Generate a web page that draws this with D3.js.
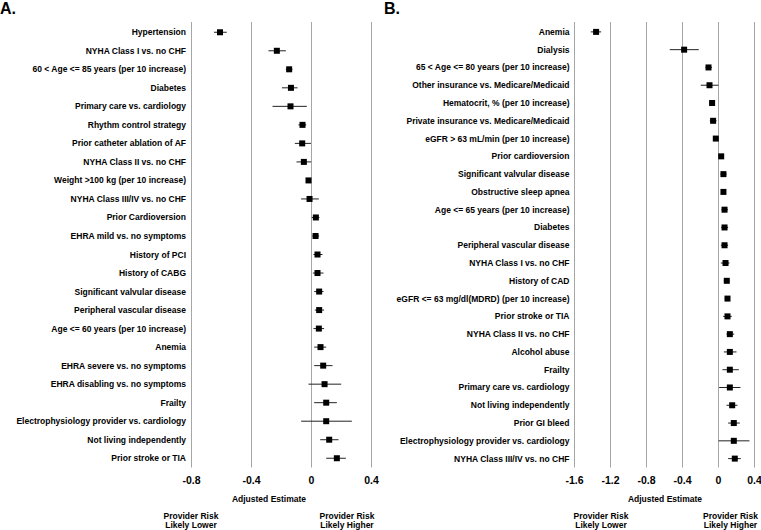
<!DOCTYPE html>
<html>
<head>
<meta charset="utf-8">
<script src="https://cdn.jsdelivr.net/npm/d3@7"></script>
<style>
  body { margin: 0; background: #fff; }
  svg { font-family: "Liberation Sans", Arial, sans-serif; font-weight: bold; }
</style>
</head>
<body>
<div id="vis"></div>
<script>
const FRAME_WIDTH = 761;
const FRAME_HEIGHT = 530;

// Panel A data
const labelsA = ["Hypertension", "NYHA Class I vs. no CHF", "60 < Age <= 85 years (per 10 increase)",
  "Diabetes", "Primary care vs. cardiology", "Rhythm control strategy", "Prior catheter ablation of AF",
  "NYHA Class II vs. no CHF", "Weight >100 kg (per 10 increase)", "NYHA Class III/IV vs. no CHF",
  "Prior Cardioversion", "EHRA mild vs. no symptoms", "History of PCI", "History of CABG",
  "Significant valvular disease", "Peripheral vascular disease", "Age <= 60 years (per 10 increase)",
  "Anemia", "EHRA severe vs. no symptoms", "EHRA disabling vs. no symptoms", "Frailty",
  "Electrophysiology provider vs. cardiology", "Not living independently", "Prior stroke or TIA"];
const estA = [-0.61, -0.231, -0.149, -0.137, -0.14, -0.06, -0.062, -0.051, -0.02, -0.013,
  0.029, 0.027, 0.04, 0.04, 0.051, 0.051, 0.049, 0.06, 0.078, 0.087, 0.098, 0.098, 0.118, 0.169];
const lowA = [-0.65, -0.287, -0.171, -0.197, -0.26, -0.087, -0.111, -0.1, -0.035, -0.069,
  0.002, 0.006, 0.013, 0.009, 0.018, 0.022, 0.013, 0.018, 0.018, -0.02, 0.018, -0.069, 0.058, 0.098];
const highA = [-0.565, -0.171, -0.127, -0.093, -0.031, -0.035, -0.004, -0.002, -0.004, 0.049,
  0.053, 0.051, 0.073, 0.08, 0.08, 0.084, 0.084, 0.098, 0.14, 0.198, 0.169, 0.269, 0.18, 0.229];
const ticksA = [-0.8, -0.4, 0, 0.4];

// Panel B data
const labelsB = ["Anemia", "Dialysis", "65 < Age <= 80 years (per 10 increase)",
  "Other insurance vs. Medicare/Medicaid", "Hematocrit, % (per 10 increase)",
  "Private insurance vs. Medicare/Medicaid", "eGFR > 63 mL/min (per 10 increase)", "Prior cardioversion",
  "Significant valvular disease", "Obstructive sleep apnea", "Age <= 65 years (per 10 increase)",
  "Diabetes", "Peripheral vascular disease", "NYHA Class I vs. no CHF", "History of CAD",
  "eGFR <= 63 mg/dl(MDRD) (per 10 increase)", "Prior stroke or TIA", "NYHA Class II vs. no CHF",
  "Alcohol abuse", "Frailty", "Primary care vs. cardiology", "Not living independently",
  "Prior GI bleed", "Electrophysiology provider vs. cardiology", "NYHA Class III/IV vs. no CHF"];
const estB = [-1.36, -0.382, -0.111, -0.1, -0.071, -0.06, -0.03, 0.03, 0.055, 0.055, 0.067, 0.067,
  0.067, 0.078, 0.092, 0.1, 0.1, 0.126, 0.126, 0.126, 0.126, 0.152, 0.17, 0.17, 0.181];
const lowB = [-1.419, -0.541, -0.144, -0.197, -0.1, -0.096, -0.056, 0.0, 0.022, 0.03, 0.033, 0.03,
  0.026, 0.026, 0.059, 0.07, 0.052, 0.089, 0.059, 0.044, 0.007, 0.089, 0.107, 0.0, 0.107];
const highB = [-1.304, -0.219, -0.074, 0.0, -0.04, -0.022, 0.0, 0.056, 0.089, 0.081, 0.104, 0.107,
  0.107, 0.122, 0.122, 0.126, 0.148, 0.174, 0.2, 0.226, 0.244, 0.211, 0.237, 0.344, 0.248];
const ticksB = [-1.6, -1.2, -0.8, -0.4, 0, 0.4];

const svg = d3.select("#vis")
              .append("svg")
              .attr("width", FRAME_WIDTH)
              .attr("height", FRAME_HEIGHT);

function build_panel(opt) {
    const X = d3.scaleLinear().domain(opt.domain).range(opt.xrange);
    const Y = d3.scaleBand().domain(opt.labels).range([23, 467.5]);
    const g = svg.append("g");

    // panel letter
    g.append("text")
     .attr("x", opt.letterX).attr("y", 14)
     .attr("font-size", "16px")
     .text(opt.letter);

    // vertical gridlines
    g.selectAll(".grid")
     .data(opt.ticks)
     .enter()
     .append("line")
       .attr("x1", d => X(d)).attr("x2", d => X(d))
       .attr("y1", 22).attr("y2", 467.5)
       .attr("stroke", "#a6a6a6")
       .attr("stroke-width", 1);

    // tick labels (plain hyphen minus like the original)
    g.selectAll(".tick")
     .data(opt.ticks)
     .enter()
     .append("text")
       .attr("x", d => X(d)).attr("y", 483.5)
       .attr("text-anchor", "middle")
       .attr("font-size", "10.5px")
       .text(d => String(d));

    // row labels
    g.selectAll(".lab")
     .data(opt.labels)
     .enter()
     .append("text")
       .attr("x", opt.labelX)
       .attr("y", d => Y(d) + Y.bandwidth() / 2 + 3)
       .attr("text-anchor", "end")
       .attr("font-size", "8.5px")
       .text(d => d);

    const rows = opt.labels.map((l, i) => ({label: l, est: opt.est[i], lo: opt.lo[i], hi: opt.hi[i]}));

    // confidence whiskers
    g.selectAll(".ci")
     .data(rows)
     .enter()
     .append("line")
       .attr("x1", d => X(d.lo)).attr("x2", d => X(d.hi))
       .attr("y1", d => Y(d.label) + Y.bandwidth() / 2)
       .attr("y2", d => Y(d.label) + Y.bandwidth() / 2)
       .attr("stroke", "#222")
       .attr("stroke-width", 1);

    // point estimates
    g.selectAll(".pt")
     .data(rows)
     .enter()
     .append("rect")
       .attr("x", d => X(d.est) - 3)
       .attr("y", d => Y(d.label) + Y.bandwidth() / 2 - 3)
       .attr("width", 6).attr("height", 6)
       .attr("fill", "#000");

    // axis title
    g.append("text")
     .attr("x", opt.titleX).attr("y", 501.5)
     .attr("text-anchor", "middle")
     .attr("font-size", "8.5px")
     .text("Adjusted Estimate");

    // direction notes
    const notes = [{x: opt.noteL, lines: ["Provider Risk", "Likely Lower"]},
                   {x: opt.noteR, lines: ["Provider Risk", "Likely Higher"]}];
    notes.forEach(n => {
        n.lines.forEach((t, i) => {
            g.append("text")
             .attr("x", n.x).attr("y", 519 + i * 9)
             .attr("text-anchor", "middle")
             .attr("font-size", "8.5px")
             .text(t);
        });
    });
}

build_panel({letter: "A.", letterX: 0, labels: labelsA, est: estA, lo: lowA, hi: highA,
    ticks: ticksA, domain: [-0.8, 0.4], xrange: [191.5, 371.5], labelX: 186,
    titleX: 269, noteL: 191, noteR: 347});

build_panel({letter: "B.", letterX: 384, labels: labelsB, est: estB, lo: lowB, hi: highB,
    ticks: ticksB, domain: [-1.6, 0.4], xrange: [574.5, 754.5], labelX: 569.5,
    titleX: 665, noteL: 601, noteR: 730.5});
</script>
</body>
</html>
